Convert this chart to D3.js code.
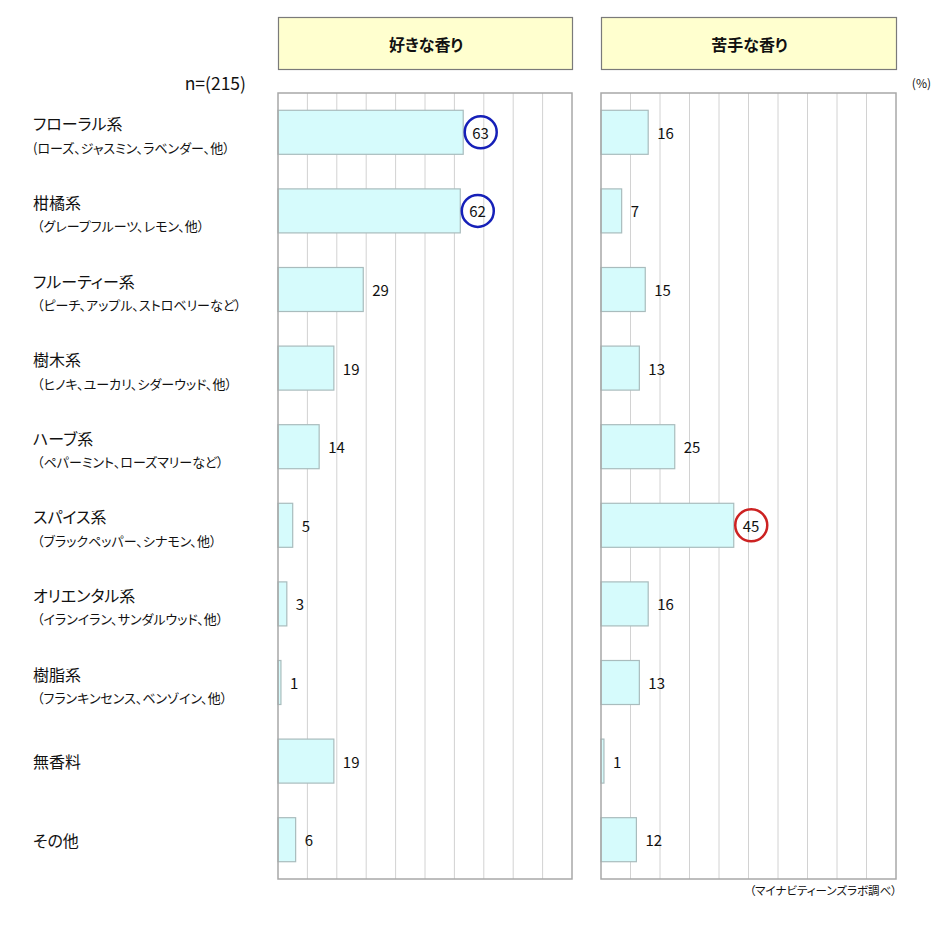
<!DOCTYPE html>
<html>
<head>
<meta charset="utf-8">
<script src="https://cdn.jsdelivr.net/npm/d3@7"></script>
<style>
  body { margin: 0; background: #fff; }
  text { font-family: "Noto Sans CJK JP", "Noto Sans", sans-serif; fill: #111; }
  .jp { font-feature-settings: "palt"; }
</style>
</head>
<body>
<svg id="chart" width="940" height="929"></svg>
<script>
const categories = ['フローラル系', '柑橘系', 'フルーティー系', '樹木系', 'ハーブ系', 'スパイス系', 'オリエンタル系', '樹脂系', '無香料', 'その他']
const sub_labels = [
    '(ローズ、ジャスミン、ラベンダー、他）',
    '（グレープフルーツ、レモン、他）',
    '（ピーチ、アップル、ストロベリーなど）',
    '（ヒノキ、ユーカリ、シダーウッド、他）',
    '（ペパーミント、ローズマリーなど）',
    '（ブラックペッパー、シナモン、他）',
    '（イランイラン、サンダルウッド、他）',
    '（フランキンセンス、ベンゾイン、他）',
    '',
    ''
]
const likes = [63, 62, 29, 19, 14, 5, 3, 1, 19, 6]
const dislikes = [16, 7, 15, 13, 25, 45, 16, 13, 1, 12]
const like_circled = ['フローラル系', '柑橘系']
const dislike_circled = ['スパイス系']
const panel_titles = ['好きな香り', '苦手な香り']
const x_ticks = [0, 10, 20, 30, 40, 50, 60, 70, 80, 90, 100]

const svg = d3.select('#chart')

const top_ = 93, bottom_ = 879
const y = d3.scaleBand()
    .domain(categories)
    .range([top_, bottom_])
    .paddingInner(0.44)
    .paddingOuter(0.22)

const panels = [
    {title: panel_titles[0], values: likes, circled: like_circled, color: '#1620b8', x0: 278, x1: 572},
    {title: panel_titles[1], values: dislikes, circled: dislike_circled, color: '#cc2222', x0: 601, x1: 896}
]

panels.forEach(p => {
    const x = d3.scaleLinear().domain([0, 100]).range([p.x0, p.x1])

    // header box
    svg.append('rect')
        .attr('x', p.x0 + 0.5).attr('y', 17.5)
        .attr('width', p.x1 - p.x0).attr('height', 52)
        .attr('fill', '#ffffcf')
        .attr('stroke', '#7a7a7a')
        .attr('stroke-width', 1.2)
    svg.append('text')
        .attr('x', (p.x0 + p.x1) / 2 + 1).attr('y', 44)
        .attr('text-anchor', 'middle')
        .attr('dominant-baseline', 'central')
        .attr('class', 'jp')
        .style('font-size', '16px')
        .style('font-weight', 'bold')
        .text(p.title)

    // grid
    const g = svg.append('g')
    g.selectAll('line.grid')
        .data(x_ticks.slice(1, -1))
        .enter()
        .append('line')
        .attr('x1', d => x(d)).attr('x2', d => x(d))
        .attr('y1', top_).attr('y2', bottom_)
        .attr('stroke', '#d2d2d2')
        .attr('stroke-width', 1)

    // bars
    g.selectAll('rect.bar')
        .data(p.values)
        .enter()
        .append('rect')
        .attr('x', x(0))
        .attr('y', (d, i) => y(categories[i]))
        .attr('width', d => x(d) - x(0))
        .attr('height', y.bandwidth())
        .attr('fill', '#d6fbfc')
        .attr('stroke', '#a9bcbd')
        .attr('stroke-width', 1.2)

    // frame
    svg.append('rect')
        .attr('x', p.x0).attr('y', top_)
        .attr('width', p.x1 - p.x0).attr('height', bottom_ - top_)
        .attr('fill', 'none')
        .attr('stroke', '#a8a8a8')
        .attr('stroke-width', 1.5)

    // value labels
    g.selectAll('text.val')
        .data(p.values)
        .enter()
        .append('text')
        .attr('x', d => x(d) + 9)
        .attr('y', (d, i) => y(categories[i]) + y.bandwidth() / 2)
        .attr('dominant-baseline', 'central')
        .style('font-size', '15px')
        .text(d => d)

    // highlight circles
    p.values.forEach((d, i) => {
        if (!p.circled.includes(categories[i])) return
        svg.append('circle')
            .attr('cx', x(d) + 17.5)
            .attr('cy', y(categories[i]) + y.bandwidth() / 2)
            .attr('r', 16)
            .attr('fill', 'none')
            .attr('stroke', p.color)
            .attr('stroke-width', 2.5)
    })
})

// category labels
categories.forEach((c, i) => {
    const cy = y(c) + y.bandwidth() / 2
    const has_sub = sub_labels[i] !== ''
    svg.append('text')
        .attr('x', 33)
        .attr('y', has_sub ? cy - 9 : cy)
        .attr('dominant-baseline', 'central')
        .attr('class', 'jp')
        .style('font-size', '16px')
        .text(c)
    if (has_sub) {
        svg.append('text')
            .attr('x', sub_labels[i].startsWith('（') ? 37 : 33)
            .attr('y', cy + 15)
            .attr('dominant-baseline', 'central')
            .attr('class', 'jp')
            .style('font-size', '13px')
            .text(sub_labels[i])
    }
})

svg.append('text')
    .attr('x', 246).attr('y', 82)
    .attr('text-anchor', 'end')
    .attr('dominant-baseline', 'central')
    .style('font-size', '17.5px')
    .text('n=(215)')

svg.append('text')
    .attr('x', 931).attr('y', 82)
    .attr('text-anchor', 'end')
    .attr('dominant-baseline', 'central')
    .style('font-size', '12px')
    .text('(%)')

svg.append('text')
    .attr('x', 897).attr('y', 890)
    .attr('text-anchor', 'end')
    .attr('dominant-baseline', 'central')
    .attr('class', 'jp')
    .style('font-size', '11.5px')
    .text('（マイナビティーンズラボ調べ）')
</script>
</body>
</html>
